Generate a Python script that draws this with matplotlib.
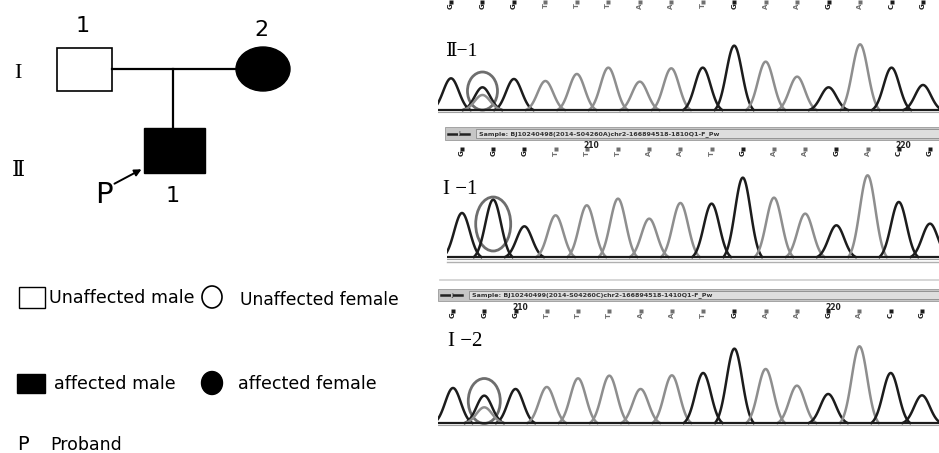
import matplotlib.pyplot as plt
import numpy as np
from matplotlib.patches import Rectangle, Ellipse

W, H = 939, 453

# pedigree
gen_labels = ["I", "Ⅱ"]
member_numbers = ["1", "2", "1"]
member_sex = ["male", "female", "male"]
member_affected = [False, True, True]
legend_labels = ["Unaffected male", "Unaffected female", "affected male", "affected female", "Proband"]

# chromatograms (peak heights, arbitrary units)
bases = list("GGGTTTAATGAAGACG")
dark_peaks = [0, 1, 2, 8, 9, 12, 14, 15]
trace_names = ["Ⅱ−1", "I −1", "I −2"]
heights_ii1 = [95, 68, 93, 87, 108, 127, 85, 125, 127, 193, 145, 100, 68, 197, 127, 75]
heights_i1 = [132, 172, 92, 125, 155, 175, 115, 162, 160, 238, 178, 130, 95, 245, 165, 100]
heights_i2 = [105, 82, 102, 108, 134, 142, 102, 143, 150, 223, 162, 112, 87, 230, 150, 83]
het_heights = [45, 0, 47]  # second (grey) peak at position 2
sample_names = [
    None,
    "Sample: BJ10240498(2014-S04260A)chr2-166894518-1810Q1-F_Pw",
    "Sample: BJ10240499(2014-S04260C)chr2-166894518-1410Q1-F_Pw",
]
pos_labels = [{}, {4: "210", 14: "220"}, {2: "210", 12: "220"}]

DARK = "#1c1c1c"
GREY = "#8e8e8e"
SERIF = ["Liberation Serif", "DejaVu Serif"]

fig = plt.figure(figsize=(W / 100, H / 100), dpi=100)
ax = fig.add_axes([0, 0, 1, 1])
ax.set_xlim(0, W)
ax.set_ylim(H, 0)
ax.axis("off")


def px_axes(x0, x1, y0, y1):
    a = fig.add_axes([x0 / W, 1 - y1 / H, (x1 - x0) / W, (y1 - y0) / H])
    a.axis("off")
    return a


def peak(xs, centre, h, half=0.62, s=0.25):
    g = np.exp(-0.5 * ((xs - centre) / s) ** 2)
    ge = np.exp(-0.5 * (half / s) ** 2)
    return h * (g - ge) / (1 - ge)


# ---- pedigree ----
lw = 1.6
male1 = Rectangle((57, 48), 55, 43, fc="white", ec="black", lw=1.2)
female2 = Ellipse((263, 69), 54, 44, fc="black" if member_affected[1] else "white", ec="black")
child = Rectangle((144, 128), 61, 45, fc="black", ec="black")
for p in (male1, female2, child):
    ax.add_patch(p)
ax.plot([112, 237], [69, 69], color="black", lw=lw)
ax.plot([173, 173], [69, 128], color="black", lw=lw)
ax.text(83, 26, member_numbers[0], fontsize=16, ha="center", va="center")
ax.text(261, 30, member_numbers[1], fontsize=16, ha="center", va="center")
ax.text(173, 196, member_numbers[2], fontsize=16, ha="center", va="center")
ax.text(104, 195, "P", fontsize=21, ha="center", va="center")
ax.annotate("", xy=(144, 168), xytext=(112, 185),
            arrowprops=dict(arrowstyle="-|>", color="black", lw=1.4, mutation_scale=10))
ax.text(18, 74, gen_labels[0], fontsize=16, family=SERIF, ha="center", va="center")
ax.text(18, 172, gen_labels[1], fontsize=16, family=SERIF, ha="center", va="center")

# ---- legend ----
ax.add_patch(Rectangle((19, 287), 26, 21, fc="white", ec="black", lw=1))
ax.add_patch(Ellipse((212, 297), 20, 22, fc="white", ec="black", lw=1.2))
ax.add_patch(Rectangle((17, 374), 28, 19, fc="black", ec="black"))
ax.add_patch(Ellipse((212, 383), 21, 23, fc="black", ec="black"))
ax.text(49, 298, legend_labels[0], fontsize=12.6, va="center")
ax.text(240, 300, legend_labels[1], fontsize=12.3, va="center")
ax.text(54, 384, legend_labels[2], fontsize=12.6, va="center")
ax.text(238, 384, legend_labels[3], fontsize=12.6, va="center")
ax.text(23, 445, "P", fontsize=14, ha="center", va="center")
ax.text(50, 445, legend_labels[4], fontsize=12.5, va="center")

# ---- sample bars and frame lines ----
for (bx, by, bw, bh), name in zip([(445, 127, 494, 13), (438, 289, 501, 12)], sample_names[1:]):
    ax.add_patch(Rectangle((bx, by), bw, bh, fc="#c6c6c6", ec="#9a9a9a", lw=0.6))
    ax.add_patch(Rectangle((bx + 31, by + 2), bw - 31, bh - 4, fc="#dedede", ec="#8a8a8a", lw=0.6))
    ax.plot([bx + 3, bx + 24], [by + bh / 2, by + bh / 2], color="#222", lw=1.8)
    ax.text(bx + 14, by + bh / 2, "J", fontsize=4.5, color="#222", ha="center", va="center",
            bbox=dict(fc="#c6c6c6", ec="none", pad=0.2))
    ax.text(bx + 34, by + bh / 2 + 0.5, name, fontsize=4.6, color="#333", weight="bold", va="center")
ax.plot([447, 939], [262, 262], color="#b0b0b0", lw=1)
ax.plot([440, 939], [280, 280], color="#cfcfcf", lw=1.2)

# ---- chromatograms ----
heights = [heights_ii1, heights_i1, heights_i2]
# pixel boxes: x0, x1, y0, y1, baseline y, first peak x, last peak x
boxes = [
    (438, 939, 0, 115, 110, 451, 923),
    (447, 939, 143, 262, 257, 462, 930),
    (438, 939, 305, 428, 423, 453, 922),
]
label_pos = [(446, 52, 14), (443, 190, 15), (448, 342, 15)]
circles = [(91, 30, 38), (224, 35, 54), (401, 32, 45)]

for k, (x0, x1, y0, y1, base, p0, p1) in enumerate(boxes):
    step = (p1 - p0) / 15
    a = px_axes(x0, x1, y0, y1)
    a.set_xlim((x0 - p0) / step, 15 + (x1 - p1) / step)
    a.set_ylim(-(y1 - base) * 3, (base - y0) * 3)
    for i, h in enumerate(heights[k]):
        xs = np.linspace(i - 0.62, i + 0.62, 100)
        col = DARK if i in dark_peaks else GREY
        a.plot(xs, peak(xs, i, h), color=col, lw=1.8)
    if het_heights[k]:
        xs = np.linspace(0.38, 1.62, 100)
        a.plot(xs, peak(xs, 1, het_heights[k]), color=GREY, lw=1.8)
    xl = a.get_xlim()
    a.plot(xl, [0, 0], color=DARK, lw=1.6)
    a.plot(xl, [-5, -5], color="#a0a0a0", lw=0.8)
    # circle around position 2
    cy, cw, ch = circles[k]
    a.add_patch(Ellipse((1, (base - cy) * 3), cw / step, ch * 3, fc="none", ec="#6e6e6e", lw=2))
    # base calls
    row = (base - y0) * 3 - (27 if k else 15)
    for i, b in enumerate(bases):
        col = DARK if b in "GC" else "#707070"
        a.plot(i, row + 9, marker="s", ms=2.2, color=col, mec="none", clip_on=False)
        a.text(i, row - 3, b, fontsize=5, rotation=90, color=col, ha="center", va="center",
               weight="bold", clip_on=False)
    for i, t in pos_labels[k].items():
        a.text(i + 0.15, row + 19, t, fontsize=5.5, color="#222", ha="center", va="center",
               weight="bold")
    lx, ly, fs = label_pos[k]
    ax.text(lx, ly, trace_names[k], fontsize=fs, family=SERIF, va="center")

fig.savefig("out.png", dpi=100)
